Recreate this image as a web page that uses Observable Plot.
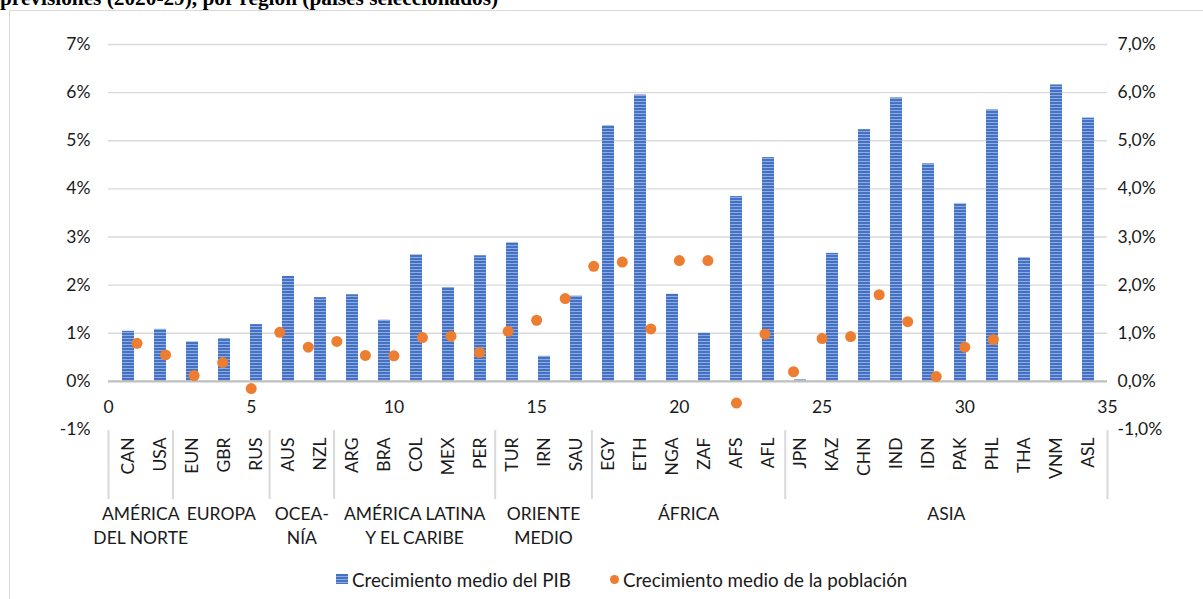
<!DOCTYPE html>
<html><head><meta charset="utf-8">
<script src="https://cdn.jsdelivr.net/npm/d3@7"></script>
<script src="https://cdn.jsdelivr.net/npm/@observablehq/plot@0.6"></script>
<style>
body{margin:0;background:#fff;}
#chart{position:relative;width:1203px;height:599px;overflow:hidden;font-family:Lato,sans-serif;color:#1a1a1a;background:#fff;}
#chart svg{position:absolute;left:0;top:0;}
#frame{position:absolute;left:9px;top:10px;width:1300px;height:700px;border-left:1px solid #d9d9d9;border-top:1px solid #d9d9d9;}
#title{position:absolute;left:0;top:-12px;font-family:"Liberation Serif","Times New Roman",serif;font-weight:bold;font-size:21.3px;line-height:21px;white-space:nowrap;color:#000;}
#legend{position:absolute;left:336px;top:567px;height:24px;display:flex;align-items:center;font-size:18.8px;white-space:nowrap;}
#legend .sq{width:12px;height:10px;margin-right:4px;background:repeating-linear-gradient(to bottom,#4472C4 0,#4472C4 2px,#8FAADC 2px,#8FAADC 3px);}
#legend .dt{width:9px;height:9px;border-radius:50%;background:#ED7D31;margin-left:39px;margin-right:4px;}
</style></head><body>
<div id="chart"><div id="frame"></div><div id="title">previsiones (2020-29), por región (países seleccionados)</div></div>
<script>
const countries = ["CAN","USA","EUN","GBR","RUS","AUS","NZL","ARG","BRA","COL","MEX","PER","TUR","IRN","SAU","EGY","ETH","NGA","ZAF","AFS","AFL","JPN","KAZ","CHN","IND","IDN","PAK","PHL","THA","VNM","ASL"];
const gdpGrowth = [1.04,1.08,0.82,0.89,1.18,2.18,1.74,1.80,1.27,2.63,1.95,2.61,2.88,0.52,1.77,5.31,5.95,1.81,1.00,3.84,4.65,0.03,2.66,5.23,5.89,4.52,3.69,5.64,2.57,6.16,5.47];
const popX = [1,2,3,4,5,6,7,8,9,10,11,12,13,14,15,16,17,18,19,20,21,22,23,24,25,26,27,28,29,30,31];
const popGrowth = [0.79,0.55,0.12,0.39,-0.15,1.02,0.71,0.83,0.54,0.53,0.91,0.94,0.60,1.04,1.27,1.72,2.39,2.48,1.09,2.51,2.51,-0.45,0.98,0.20,0.89,0.93,1.80,1.24,0.10,0.71,0.87];
const regions = ["AMÉRICA\nDEL NORTE","EUROPA","OCEA-\nNÍA","AMÉRICA LATINA\nY EL CARIBE","ORIENTE\nMEDIO","ÁFRICA","ASIA"];
const regionSizes = [2,3,2,5,3,6,10];
const yTicks = [-1,0,1,2,3,4,5,6,7];
const gridTicks = [1,2,3,4,5,6,7];
const xNumTicks = [0,5,10,15,20,25,30,35];

const chart = document.getElementById("chart");
const W = 1203, H = 560;
const common = {
  width: W, height: H, marginLeft: 108, marginRight: 96, marginTop: 44, marginBottom: 131,
  style: {background: "transparent", fontFamily: "Lato, sans-serif", fontSize: "17.5px", color: "#1a1a1a", overflow: "visible"}
};
const yScale = {domain: [-1, 7], axis: null};

const gdpData = countries.map((c, i) => ({country: c, gdp: gdpGrowth[i]}));
const popData = popX.map((x, i) => ({x, pop: popGrowth[i]}));

const barPlot = Plot.plot({
  ...common,
  x: {type: "band", domain: countries, paddingInner: 0.64, paddingOuter: 0.32, axis: null},
  y: yScale,
  marks: [
    Plot.ruleY(gridTicks, {stroke: "#d9d9d9", strokeWidth: 1.3}),
    Plot.barY(gdpData, {x: "country", y: "gdp", fill: "url(#gdpStripes)"}),
    Plot.ruleY([0], {stroke: "#bfbfbf", strokeWidth: 2.2}),
    Plot.axisY({anchor: "left", ticks: yTicks, tickSize: 0, tickPadding: 18, label: null, tickFormat: d => d + "%"}),
    Plot.axisY({anchor: "right", ticks: yTicks, tickSize: 0, tickPadding: 10, label: null, tickFormat: d => d.toFixed(1).replace(".", ",") + "%"}),
    Plot.axisX({anchor: "bottom", tickRotate: -90, tickSize: 0, tickPadding: 8, label: null})
  ]
});
d3.select(barPlot).insert("defs", ":first-child").html(
  '<pattern id="gdpStripes" patternUnits="userSpaceOnUse" width="6" height="3">' +
  '<rect width="6" height="3" fill="#4472C4"></rect><rect y="2" width="6" height="1" fill="#8FAADC"></rect></pattern>');
chart.appendChild(barPlot);

// category group separators and region labels
const bounds = [0];
regionSizes.forEach(s => bounds.push(bounds[bounds.length - 1] + s));
const mids = regionSizes.map((s, i) => ({x: (bounds[i] + bounds[i + 1]) / 2, label: regions[i]}));
const groupPlot = Plot.plot({
  ...common,
  marginTop: 430, marginBottom: H - 499,
  x: {domain: [0, countries.length], axis: null},
  y: {axis: null},
  marks: [
    Plot.ruleX(bounds, {stroke: "#d9d9d9", strokeWidth: 2}),
    Plot.text(mids, {x: "x", text: "label", frameAnchor: "bottom", lineAnchor: "top", dy: 3, lineHeight: 1.38})
  ]
});
chart.appendChild(groupPlot);

// scatter layer on its own numeric x axis
const dotPlot = Plot.plot({
  ...common,
  x: {domain: [0, 35], axis: null},
  y: yScale,
  marks: [
    Plot.text(xNumTicks, {x: d => d, y: () => 0, dy: 26, text: d => String(d)}),
    Plot.dot(popData, {x: "x", y: "pop", r: 5.5, fill: "#ED7D31"})
  ]
});
chart.appendChild(dotPlot);

const legend = document.createElement("div");
legend.id = "legend";
legend.innerHTML = '<span class="sq"></span><span>Crecimiento medio del PIB</span><span class="dt"></span><span>Crecimiento medio de la población</span>';
chart.appendChild(legend);
</script>
</body></html>
